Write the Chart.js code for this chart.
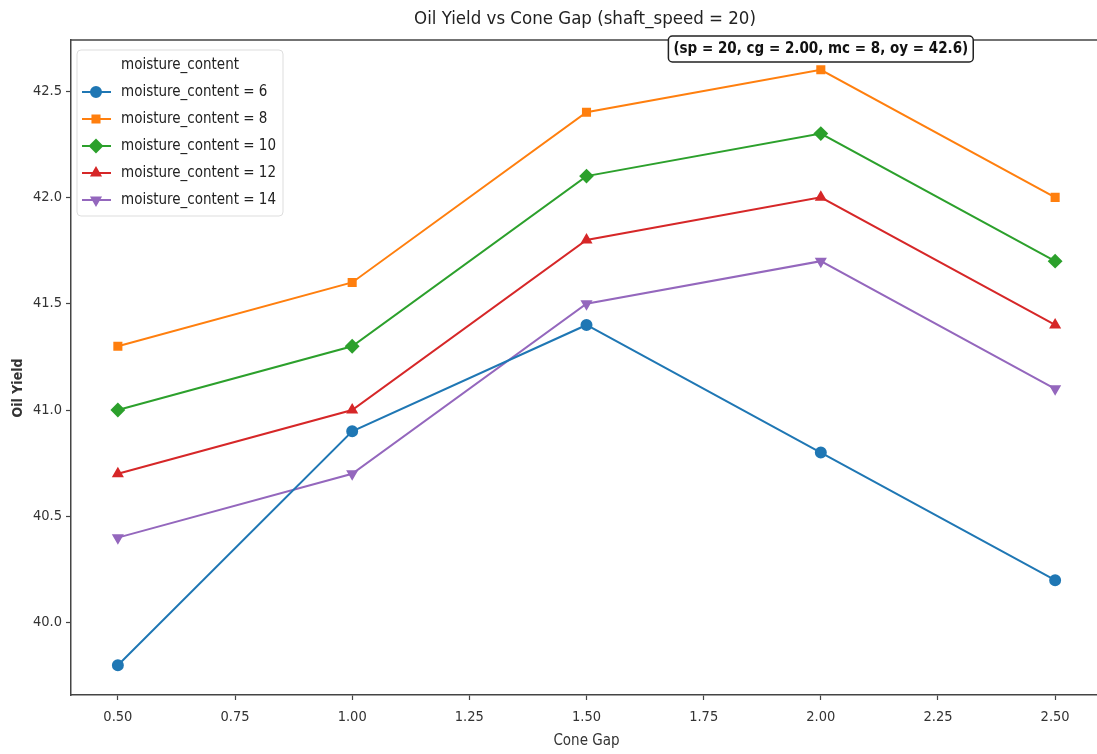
<!DOCTYPE html>
<html>
<head>
<meta charset="utf-8">
<script src="https://cdn.jsdelivr.net/npm/chart.js@4.4.0/dist/chart.umd.min.js"></script>
<style>
  body { margin: 0; background: #fff; overflow: hidden; }
  #wrap { position: absolute; left: 0; top: 0; width: 1110px; height: 754px; }
</style>
</head>
<body>
<div id="wrap"><canvas id="myChart"></canvas></div>
<script>
const coneGap = [0.5, 1.0, 1.5, 2.0, 2.5]
const xTicks = [0.5, 0.75, 1.0, 1.25, 1.5, 1.75, 2.0, 2.25, 2.5]
const yTicks = [40.0, 40.5, 41.0, 41.5, 42.0, 42.5]
const mc6 = [39.8, 40.9, 41.4, 40.8, 40.2]
const mc8 = [41.3, 41.6, 42.4, 42.6, 42.0]
const mc10 = [41.0, 41.3, 42.1, 42.3, 41.7]
const mc12 = [40.7, 41.0, 41.8, 42.0, 41.4]
const mc14 = [40.4, 40.7, 41.5, 41.7, 41.1]
const seriesLabels = ['moisture_content = 6', 'moisture_content = 8', 'moisture_content = 10', 'moisture_content = 12', 'moisture_content = 14']
const colors = ['#1f77b4', '#ff7f0e', '#2ca02c', '#d62728', '#9467bd']
const styles = ['circle', 'rect', 'rectRot', 'triangle', 'triangle']
const rotations = [0, 0, 0, 0, 180]

const FONT = '"DejaVu Sans Condensed", "DejaVu Sans", sans-serif'
const ctx = document.getElementById('myChart')

function makeSet(values, i) {
  return {
    label: seriesLabels[i],
    data: coneGap.map((x, j) => ({x: x, y: values[j]})),
    borderColor: colors[i],
    backgroundColor: colors[i],
    borderWidth: 2,
    pointStyle: styles[i],
    pointRotation: rotations[i],
    pointRadius: i === 2 ? 6 : 5,
    tension: 0
  }
}

// title, y title, top spine, legend box and the note on the peak
const extras = {
  id: 'extras',
  afterDraw(chart) {
    const c = chart.ctx
    const area = chart.chartArea
    c.save()
    c.strokeStyle = '#444'
    c.lineWidth = 1.5
    c.beginPath()
    c.moveTo(area.left, area.top)
    c.lineTo(area.right, area.top)
    c.stroke()

    c.fillStyle = '#222'
    c.font = '18.5px ' + FONT
    c.textAlign = 'center'
    c.textBaseline = 'middle'
    c.fillText('Oil Yield vs Cone Gap (shaft_speed = 20)', 585, 19)

    // y axis title, sits a bit below the middle like the original
    c.save()
    c.translate(18, 388)
    c.rotate(-Math.PI / 2)
    c.fillStyle = '#333'
    c.font = 'bold 14px ' + FONT
    c.fillText('Oil Yield', 0, 0)
    c.restore()

    // legend
    const lx = 77, ly = 50, lw = 206, lh = 166
    c.fillStyle = 'rgba(255,255,255,0.85)'
    c.strokeStyle = '#ddd'
    c.lineWidth = 1
    c.beginPath()
    c.roundRect(lx, ly, lw, lh, 4)
    c.fill()
    c.stroke()
    c.fillStyle = '#222'
    c.font = '15px ' + FONT
    c.textAlign = 'center'
    c.fillText('moisture_content', lx + lw / 2, 65)
    c.textAlign = 'left'
    chart.data.datasets.forEach((ds, i) => {
      const y = 92 + i * 27
      c.strokeStyle = ds.borderColor
      c.lineWidth = 2
      c.beginPath()
      c.moveTo(82, y)
      c.lineTo(111, y)
      c.stroke()
      Chart.helpers.drawPoint(c, {pointStyle: ds.pointStyle, rotation: ds.pointRotation, radius: ds.pointRadius, borderWidth: 1}, 96, y)
      c.fillStyle = ds.borderColor
      c.fill()
      c.fillStyle = '#222'
      c.fillText(ds.label, 121, y)
    })

    // note at the maximum
    const px = chart.scales.x.getPixelForValue(2.0)
    const text = '(sp = 20, cg = 2.00, mc = 8, oy = 42.6)'
    c.font = 'bold 15px ' + FONT
    const tw = c.measureText(text).width
    const bw = tw + 10
    c.fillStyle = '#fff'
    c.strokeStyle = '#222'
    c.lineWidth = 1.5
    c.beginPath()
    c.roundRect(px - bw / 2, 36, bw, 26, 4)
    c.fill()
    c.stroke()
    c.fillStyle = '#111'
    c.textAlign = 'center'
    c.fillText(text, px, 49.5)
    c.restore()
  }
}

new Chart(ctx, {
  type: 'line',
  data: {
    datasets: [mc6, mc8, mc10, mc12, mc14].map(makeSet)
  },
  options: {
    responsive: true,
    maintainAspectRatio: false,
    animation: false,
    layout: { padding: { top: 40, right: 5, left: 0, bottom: 0 } },
    plugins: {
      legend: { display: false },
      tooltip: { enabled: false }
    },
    scales: {
      x: {
        type: 'linear',
        min: 0.4,
        max: 2.6,
        afterFit: s => { s.height = 59 },
        afterBuildTicks: s => { s.ticks = xTicks.map(v => ({value: v})) },
        ticks: {
          color: '#333',
          font: { family: FONT, size: 14.5 },
          padding: 9,
          maxRotation: 0,
          callback: v => v.toFixed(2)
        },
        grid: { drawOnChartArea: false, drawTicks: true, tickLength: 5, color: '#444', tickWidth: 1.2 },
        border: { display: true, color: '#444', width: 1.5 },
        title: { display: true, text: 'Cone Gap', color: '#333', font: { family: FONT, size: 15 }, padding: { top: 0, bottom: 4 } }
      },
      y: {
        min: 39.66,
        max: 42.74,
        afterFit: s => { s.width = 71 },
        afterBuildTicks: s => { s.ticks = yTicks.map(v => ({value: v})) },
        ticks: {
          color: '#333',
          font: { family: FONT, size: 14.5 },
          padding: 4,
          callback: v => v.toFixed(1)
        },
        grid: { drawOnChartArea: false, drawTicks: true, tickLength: 5, color: '#444', tickWidth: 1.2 },
        border: { display: true, color: '#444', width: 1.5 },
        title: { display: false }
      }
    }
  },
  plugins: [extras]
})
</script>
</body>
</html>
